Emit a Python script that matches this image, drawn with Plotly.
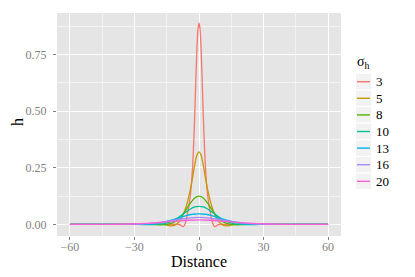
import plotly.graph_objects as go

# sigma_h levels
sigmas = ["3", "5", "8", "10", "13", "16", "20"]
colors = ["#F8766D", "#C49A00", "#53B400", "#00C094", "#00B6EB", "#A58AFF", "#FB61D7"]

# one-sided distances (curves are symmetric around 0) and h values
d_3 = [0, 0.5, 1, 1.5, 2, 2.5, 3, 3.5, 4, 4.5, 5, 5.5, 6, 6.5, 7, 7.5, 8, 8.5, 9, 10, 60]
h_3 = [0.889, 0.86, 0.77, 0.63, 0.48, 0.35, 0.25, 0.18, 0.13, 0.095, 0.065, 0.04, 0.018, 0.002, -0.007, -0.009, -0.007, -0.003, -0.001, 0, 0]

d_5 = [0, 1, 2, 3, 4, 5, 6, 7, 8, 9, 10, 11, 12, 13, 14, 15, 16, 17, 60]
h_5 = [0.32, 0.305, 0.262, 0.205, 0.155, 0.113, 0.078, 0.05, 0.03, 0.015, 0.005, -0.002, -0.005, -0.006, -0.005, -0.003, -0.001, 0, 0]

d_8 = [0, 2, 4, 5, 6, 8, 10, 12, 14, 16, 18, 20, 22, 60]
h_8 = [0.125, 0.117, 0.094, 0.08, 0.065, 0.038, 0.019, 0.008, 0.002, -0.001, -0.0015, -0.001, 0, 0]

d_10 = [0, 2, 4, 6, 8, 10, 12, 14, 16, 18, 20, 24, 28, 60]
h_10 = [0.08, 0.077, 0.068, 0.055, 0.041, 0.028, 0.017, 0.009, 0.004, 0.001, 0, -0.0005, 0, 0]

d_13 = [0, 3, 6, 9, 12, 15, 18, 21, 24, 28, 60]
h_13 = [0.047, 0.045, 0.039, 0.03, 0.021, 0.013, 0.007, 0.003, 0.001, 0, 0]

d_16 = [0, 4, 8, 12, 16, 20, 24, 28, 32, 38, 60]
h_16 = [0.031, 0.029, 0.024, 0.018, 0.012, 0.007, 0.004, 0.002, 0.001, 0, 0]

d_20 = [0, 5, 10, 15, 20, 25, 30, 35, 40, 45, 50, 60]
h_20 = [0.02, 0.0185, 0.015, 0.011, 0.0075, 0.0045, 0.0025, 0.0013, 0.0006, 0.0002, 0, 0]

x_ticks = [-60, -30, 0, 30, 60]
x_tick_text = ["\u221260", "\u221230", "0", "30", "60"]
y_ticks = [0.0, 0.25, 0.5, 0.75]
y_tick_text = ["0.00", "0.25", "0.50", "0.75"]

halves = [(d_3, h_3), (d_5, h_5), (d_8, h_8), (d_10, h_10), (d_13, h_13), (d_16, h_16), (d_20, h_20)]

FONT = "Liberation Serif, Times New Roman, serif"
OFF = 8  # default page body margin
W, H = 415 - 2 * OFF, 277 - 2 * OFF
PL, PR, PT, PB = 57, 341, 13, 236  # panel edges in window pixels
L, T = PL - OFF, PT - OFF
R, B = W - (PR - OFF), H - (PB - OFF)
PW, PH = PR - PL, PB - PT


def px_x(px):
    return (px - PL) / PW


def px_y(py):
    return (PB - py) / PH


fig = go.Figure()
for name, col, (d, h) in zip(sigmas, colors, halves):
    xs = [-v for v in reversed(d[1:])] + d
    ys = list(reversed(h[1:])) + h
    fig.add_trace(go.Scatter(x=xs, y=ys, mode="lines", name=name, showlegend=False,
                             line=dict(color=col, width=1.3, shape="spline", smoothing=0.5)))

# ggplot-style legend drawn in paper space
shapes = []
annotations = [dict(text="σ<sub>h</sub>", x=px_x(355), y=px_y(63), xref="paper", yref="paper",
                    xanchor="left", yanchor="middle", showarrow=False,
                    font=dict(size=14, family=FONT, color="black"))]
y0 = 81.7
step = 16.6
for i, (name, col) in enumerate(zip(sigmas, colors)):
    cy = y0 + i * step
    shapes.append(dict(type="rect", xref="paper", yref="paper",
                       x0=px_x(355.5), x1=px_x(371.5), y0=px_y(cy + step / 2), y1=px_y(cy - step / 2),
                       fillcolor="#F2F2F2", line=dict(color="white", width=1), layer="below"))
    shapes.append(dict(type="line", xref="paper", yref="paper",
                       x0=px_x(357), x1=px_x(370), y0=px_y(cy), y1=px_y(cy),
                       line=dict(color=col, width=1.4)))
    annotations.append(dict(text=name, x=px_x(374), y=px_y(cy), xref="paper", yref="paper",
                            xanchor="left", yanchor="middle", showarrow=False,
                            font=dict(size=13, family=FONT, color="black")))

# axis titles
annotations.append(dict(text="Distance", x=px_x(199), y=px_y(262), xref="paper", yref="paper",
                        xanchor="center", yanchor="middle", showarrow=False,
                        font=dict(size=16, family=FONT, color="black")))
annotations.append(dict(text="h", x=px_x(18), y=px_y(122), xref="paper", yref="paper",
                        xanchor="center", yanchor="middle", showarrow=False, textangle=-90,
                        font=dict(size=16, family=FONT, color="black")))

fig.update_layout(
    width=W, height=H,
    margin=dict(l=L, r=R, t=T, b=B),
    paper_bgcolor="white", plot_bgcolor="#E5E5E5",
    font=dict(family=FONT, color="black"),
    showlegend=False,
    shapes=shapes, annotations=annotations,
)
fig.update_xaxes(
    range=[-66, 66], tickvals=x_ticks, ticktext=x_tick_text,
    showgrid=True, gridcolor="white", gridwidth=1.1, zeroline=False,
    minor=dict(tickvals=[-45, -15, 15, 45], showgrid=True, gridcolor="#F2F2F2", gridwidth=0.5, ticks=""),
    ticks="outside", ticklen=3, tickcolor="#7F7F7F", tickwidth=1, ticklabelstandoff=-3,
    tickfont=dict(size=12, color="#7F7F7F", family=FONT),
    showline=False, automargin=False,
)
fig.update_yaxes(
    range=[-0.051, 0.933], tickvals=y_ticks, ticktext=y_tick_text,
    showgrid=True, gridcolor="white", gridwidth=1.1, zeroline=False,
    minor=dict(tickvals=[0.125, 0.375, 0.625, 0.875], showgrid=True, gridcolor="#F2F2F2", gridwidth=0.5, ticks=""),
    ticks="outside", ticklen=3, tickcolor="#7F7F7F", tickwidth=1, ticklabelstandoff=4,
    tickfont=dict(size=12, color="#7F7F7F", family=FONT),
    showline=False, automargin=False,
)
fig.write_html("out.html")
